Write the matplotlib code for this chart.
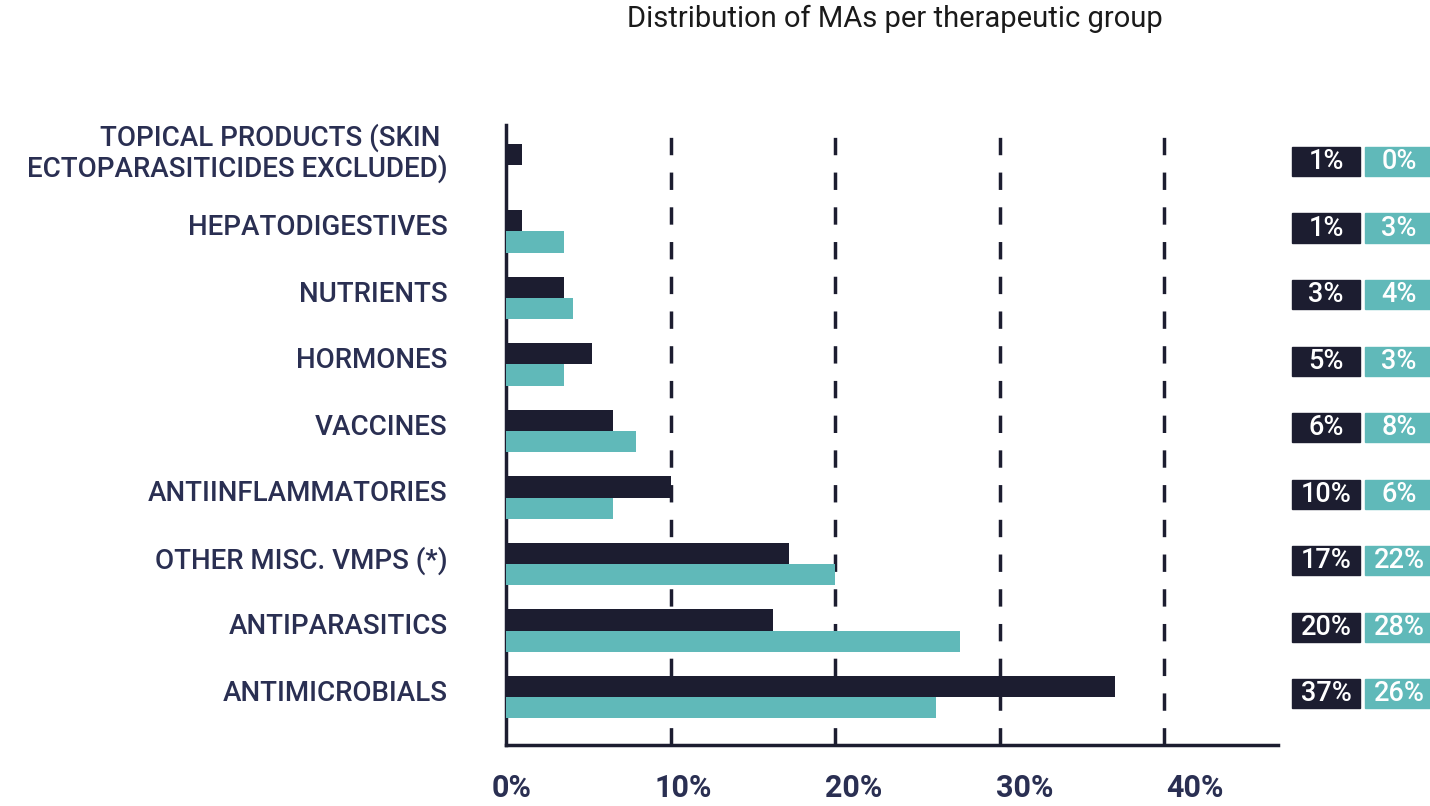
import matplotlib
matplotlib.use('Agg')
import matplotlib.pyplot as plt
import matplotlib.transforms as mtransforms
from matplotlib.patches import Rectangle

plt.rcParams['font.family'] = ['Roboto', 'DejaVu Sans']

# data (bottom to top)
groups = ['ANTIMICROBIALS', 'ANTIPARASITICS', 'OTHER MISC. VMPS (*)',
          'ANTIINFLAMMATORIES', 'VACCINES', 'HORMONES', 'NUTRIENTS',
          'HEPATODIGESTIVES', 'TOPICAL PRODUCTS (SKIN \nECTOPARASITICIDES EXCLUDED)']
dark_vals = [37.0, 16.2, 17.2, 10.0, 6.5, 5.2, 3.5, 1.0, 1.0]
teal_vals = [26.1, 27.6, 20.0, 6.5, 7.9, 3.5, 4.1, 3.5, 0.0]
dark_labels = ['37%', '20%', '17%', '10%', '6%', '5%', '3%', '1%', '1%']
teal_labels = ['26%', '28%', '22%', '6%', '8%', '3%', '4%', '3%', '0%']
xticks = [0, 10, 20, 30, 40]
xtick_labels = ['0%', '10%', '20%', '30%', '40%']

DARK = '#1c1d30'
TEAL = '#60b9b9'
NAVY = '#2a2f52'

fig = plt.figure(figsize=(14.3, 8.06), dpi=100)
ax = fig.add_axes([506 / 1430, 1 - 745 / 806, (1278 - 506) / 1430, (745 - 125) / 806])

y = list(range(len(groups)))
h = 0.32
ax.barh([i + h / 2 for i in y], dark_vals, height=h, color=DARK, zorder=3)
ax.barh([i - h / 2 for i in y], teal_vals, height=h, color=TEAL, zorder=3)

ax.set_xlim(0, 46.9)
ax.set_ylim(-0.72, 8.6)

# dashed grid
for v in xticks[1:]:
    ax.axvline(v, color=DARK, lw=2.5, ls=(0, (5, 5)), zorder=1)

for s in ['top', 'right']:
    ax.spines[s].set_visible(False)
for s in ['left', 'bottom']:
    ax.spines[s].set_linewidth(2.5)
    ax.spines[s].set_color(DARK)

# category labels (sit a little above the bar pair centre)
ax.set_yticks([i + (0.24 if '\n' in g else 0.1) for i, g in zip(y, groups)])
ax.set_yticklabels(groups, fontsize=20, color=NAVY, fontweight='medium',
                   linespacing=1.1)
ax.tick_params(axis='y', length=0, pad=42)

# x tick labels (drawn slightly right of their gridlines as in original)
ax.set_xticks([v * 1.038 + 0.36 for v in xticks])
ax.set_xticklabels(xtick_labels, fontsize=22, color=NAVY, fontweight='bold')
ax.tick_params(axis='x', length=0, pad=20)

# value boxes at right
tr = mtransforms.blended_transform_factory(fig.transFigure, ax.transData)
bw = 68 / 1430
bh = 0.44
for i in y:
    yc = i + 0.05
    ax.add_patch(Rectangle((1292 / 1430, yc - bh / 2), bw, bh, transform=tr,
                           color=DARK, clip_on=False))
    ax.add_patch(Rectangle((1365 / 1430, yc - bh / 2), bw - 3 / 1430, bh, transform=tr,
                           color=TEAL, clip_on=False))
    ax.text(1292 / 1430 + bw / 2, yc, dark_labels[i], transform=tr, ha='center',
            va='center', color='white', fontsize=19.5, fontweight='medium')
    ax.text(1365 / 1430 + bw / 2, yc, teal_labels[i], transform=tr, ha='center',
            va='center', color='white', fontsize=19.5, fontweight='medium')

fig.text(895 / 1430, 1 - 19 / 806, 'Distribution of MAs per therapeutic group',
         ha='center', va='center', fontsize=21, color='#1a1a1a', fontweight='normal')

fig.savefig('out.png', dpi=100)
